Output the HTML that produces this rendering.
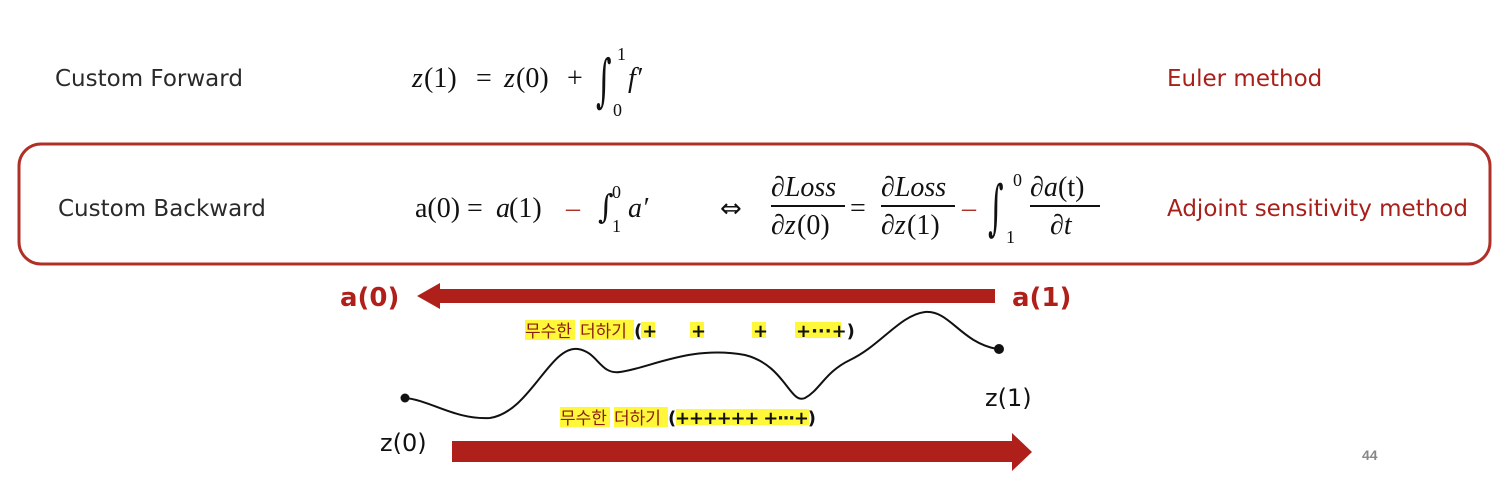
<!DOCTYPE html>
<html><head><meta charset="utf-8">
<style>
html,body{margin:0;padding:0;background:#fff;width:1494px;height:486px;overflow:hidden}
svg{display:block}
.lbl{font-family:"DejaVu Sans","Liberation Sans",sans-serif;font-size:23px;fill:#2a2a2a}
.red{font-family:"DejaVu Sans","Liberation Sans",sans-serif;font-size:23px;fill:#a8201a}
.m{font-family:"Liberation Serif",serif;font-size:28px;fill:#111}
.mi{font-family:"Liberation Serif",serif;font-style:italic;font-size:28px;fill:#111}
.s{font-family:"Liberation Serif",serif;font-size:18px;fill:#111}
.int{font-family:"DejaVu Serif",serif;font-size:30px;fill:#111}
.kr{font-family:"Noto Sans CJK KR","NanumGothic",sans-serif;font-size:17px;fill:#8a1c14}
.pl{font-family:"DejaVu Sans",sans-serif;font-size:18px;font-weight:bold;fill:#111}
.hw{font-family:"DejaVu Sans",sans-serif;font-size:24px;fill:#111}
</style></head><body>
<svg width="1494" height="486" viewBox="0 0 1494 486">
<text class="lbl" x="55" y="86">Custom Forward</text>
<g>
<text class="mi" x="412" y="87">z</text><text class="m" x="424" y="87">(1)</text>
<text class="m" x="476" y="87">=</text>
<text class="mi" x="504" y="87">z</text><text class="m" x="516" y="87">(0)</text>
<text class="m" x="567" y="87">+</text>
<text class="int" transform="translate(596,100) scale(1,1.9)">∫</text>
<text class="s" x="617" y="60">1</text><text class="s" x="613" y="116">0</text>
<text class="mi" x="628" y="87">f′</text>
</g>
<text class="red" x="1167" y="86">Euler method</text>
<rect x="19" y="144" width="1471" height="120" rx="22" fill="none" stroke="#b03028" stroke-width="3"/>
<text class="lbl" x="58" y="216">Custom Backward</text>
<g>
<text class="m" x="415" y="217">a(0)</text>
<text class="m" x="467" y="217">=</text>
<text class="mi" x="496" y="217">a</text><text class="m" x="509" y="217">(1)</text>
<text class="m" x="566" y="217" style="fill:#b03028">–</text>
<text class="int" transform="translate(598,218) scale(1,1.1)">∫</text>
<text class="s" x="612" y="198">0</text><text class="s" x="612" y="232">1</text>
<text class="mi" x="628" y="217">a′</text>
<text x="720" y="217" font-family="DejaVu Sans,sans-serif" font-size="26" fill="#111">⇔</text>
<text class="mi" x="771" y="196">∂Loss</text>
<line x1="771" y1="206" x2="845" y2="206" stroke="#111" stroke-width="2"/>
<text class="mi" x="771" y="234">∂z</text><text class="m" x="797" y="234">(0)</text>
<text class="m" x="850" y="217">=</text>
<text class="mi" x="881" y="196">∂Loss</text>
<line x1="881" y1="206" x2="955" y2="206" stroke="#111" stroke-width="2"/>
<text class="mi" x="881" y="234">∂z</text><text class="m" x="907" y="234">(1)</text>
<text class="m" x="962" y="217" style="fill:#b03028">–</text>
<text class="int" transform="translate(988,228) scale(1,2)">∫</text>
<text class="s" x="1013" y="186">0</text><text class="s" x="1006" y="243">1</text>
<text class="mi" x="1030" y="196">∂a</text><text class="m" x="1058" y="196">(t)</text>
<line x1="1030" y1="206" x2="1100" y2="206" stroke="#111" stroke-width="2"/>
<text class="mi" x="1050" y="234">∂t</text>
</g>
<text class="red" x="1167" y="216">Adjoint sensitivity method</text>
<polygon points="995,289 440,289 440,283 417,296 440,309 440,303 995,303" fill="#b0201a"/>
<text x="340" y="306" font-family="DejaVu Sans,sans-serif" font-weight="bold" font-size="26" fill="#b0201a">a(0)</text>
<text x="1012" y="306" font-family="DejaVu Sans,sans-serif" font-weight="bold" font-size="26" fill="#b0201a">a(1)</text>
<g>
<rect x="525" y="320" width="50" height="20" fill="#fff83a"/><rect x="580" y="320" width="54" height="20" fill="#fff83a"/>
<rect x="641" y="322" width="14" height="16" fill="#fff83a"/><rect x="690" y="322" width="14" height="16" fill="#fff83a"/>
<rect x="752" y="322" width="14" height="16" fill="#fff83a"/><rect x="795" y="322" width="46" height="16" fill="#fff83a"/>
<text class="kr" x="525" y="337">무수한</text><text class="kr" x="580" y="337">더하기</text>
<text class="pl" x="634" y="337">(+</text><text class="pl" x="691" y="337">+</text><text class="pl" x="753" y="337">+</text>
<text class="pl" x="796" y="337">+···+)</text>
</g>
<path d="M405,398 C430,400 455,420 490,418 C530,412 550,345 578,349 C598,352 600,375 620,372 C650,368 690,345 745,355 C785,365 790,405 805,398 C820,390 825,372 850,360 C880,346 900,315 925,312 C950,310 960,342 997,349" fill="none" stroke="#111" stroke-width="2"/>
<circle cx="405" cy="398" r="4.5" fill="#111"/>
<circle cx="999" cy="349" r="5" fill="#111"/>
<text class="hw" x="985" y="406">z(1)</text>
<text class="hw" x="380" y="451">z(0)</text>
<g>
<rect x="560" y="407" width="50" height="20" fill="#fff83a"/><rect x="614" y="407" width="54" height="20" fill="#fff83a"/>
<rect x="676" y="409" width="133" height="16" fill="#fff83a"/>
<text class="kr" x="560" y="424">무수한</text><text class="kr" x="614" y="424">더하기</text>
<text class="pl" x="668" y="424" textLength="148">(++++++ +···+)</text>
</g>
<polygon points="452,441 1012,441 1012,433 1032,452 1012,471 1012,462 452,462" fill="#b0201a"/>
<text x="1362" y="460" font-family="Liberation Sans,sans-serif" font-weight="bold" font-size="14" fill="#888">44</text>
</svg>
</body></html>
